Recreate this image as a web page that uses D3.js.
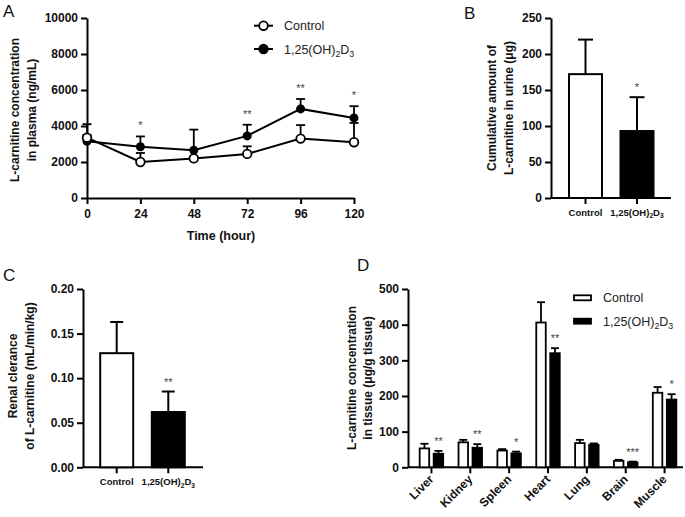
<!DOCTYPE html>
<html><head><meta charset="utf-8">
<script src="https://cdn.jsdelivr.net/npm/d3@7"></script>
<style>body{margin:0;background:#fff}svg{display:block}text{font-family:"Liberation Sans",Arial,sans-serif}</style>
</head><body>
<script>
// Panel A data
const timeTicks = [0, 24, 48, 72, 96, 120];
const plasmaControl = [3350, 2000, 2200, 2450, 3300, 3100];
const plasmaControlErr = [3500, 2500, 2300, 2870, 4050, 4170];
const plasmaVD = [3150, 2850, 2650, 3450, 4950, 4450];
const plasmaVDErr = [4100, 3420, 3800, 4070, 5500, 5100];
const plasmaStars = ["", "*", "", "**", "**", "*"];
const plasmaYTicks = [0, 2000, 4000, 6000, 8000, 10000];
// Panel B
const groups = ["Control", "VD"];
const urineMean = [172, 93];
const urineErr = [220, 140];
const urineYTicks = [0, 50, 100, 150, 200, 250];
// Panel C
const clearMean = [0.128, 0.062];
const clearErr = [0.163, 0.085];
const clearYTicks = [0, 0.05, 0.10, 0.15, 0.20];
// Panel D
const tissues = ["Liver", "Kidney", "Spleen", "Heart", "Lung", "Brain", "Muscle"];
const tissueControl = [53, 70, 47, 406, 68, 18, 209];
const tissueControlErr = [66, 77, 51, 463, 77, 21, 225];
const tissueVD = [38, 55, 39, 320, 63, 14, 190];
const tissueVDErr = [46, 65, 44, 334, 67, 16, 205];
const tissueStars = ["**", "**", "*", "**", "", "***", "*"];
const tissueYTicks = [0, 100, 200, 300, 400, 500];

const W = 685, H = 517;
const svg = d3.select("body").append("svg").attr("width", W).attr("height", H);
const AX = 2;
const STAR = "#444";

function vdLabel(sel, size) {
  sel.append("tspan").text("1,25(OH)");
  sel.append("tspan").text("2").attr("font-size", size * 0.7).attr("dy", size * 0.25);
  sel.append("tspan").text("D").attr("dy", -size * 0.25);
  sel.append("tspan").text("3").attr("font-size", size * 0.7).attr("dy", size * 0.25);
}
function styleAxis(g, fs) {
  g.selectAll("path,line").attr("stroke", "#000").attr("stroke-width", AX);
  g.selectAll("text").attr("font-size", fs).attr("font-weight", "bold").attr("fill", "#111");
}
function yLabel(x1, x2, cy, l1, l2, fs) {
  [[x1, l1], [x2, l2]].forEach(([x, t]) => {
    svg.append("text").attr("transform", `translate(${x},${cy}) rotate(-90)`)
      .attr("text-anchor", "middle").attr("dominant-baseline", "central")
      .attr("font-size", fs).attr("font-weight", "bold").attr("fill", "#111").text(t);
  });
}
function letter(t, x, y) {
  svg.append("text").attr("x", x).attr("y", y).attr("font-size", 17).attr("fill", "#111").text(t);
}

// ---------- Panel A ----------
{
  const x = d3.scaleLinear().domain([0, 120]).range([87, 354]);
  const y = d3.scaleLinear().domain([0, 10000]).range([198, 18]);
  const ga = svg.append("g").attr("transform", "translate(0,198)")
    .call(d3.axisBottom(x).tickValues(timeTicks).tickFormat(d3.format("d")).tickSize(6).tickPadding(5).tickSizeOuter(0));
  styleAxis(ga, 12);
  const gy = svg.append("g").attr("transform", "translate(87,0)")
    .call(d3.axisLeft(y).tickValues(plasmaYTicks).tickFormat(d3.format("d")).tickSize(6).tickPadding(3).tickSizeOuter(0));
  styleAxis(gy, 12);
  svg.append("text").attr("x", 221).attr("y", 240).attr("text-anchor", "middle")
    .attr("font-size", 12.5).attr("font-weight", "bold").attr("fill", "#111").text("Time (hour)");
  yLabel(15, 32, 110, "L-carnitine concentration", "in plasma (ng/mL)", 12);

  const line = d3.line().x((d, i) => x(timeTicks[i])).y(d => y(d));
  [[plasmaVD, plasmaVDErr], [plasmaControl, plasmaControlErr]].forEach(([m, e]) => {
    m.forEach((v, i) => {
      const cx = x(timeTicks[i]);
      svg.append("line").attr("x1", cx).attr("x2", cx).attr("y1", y(v)).attr("y2", y(e[i]))
        .attr("stroke", "#000").attr("stroke-width", 1.8);
      svg.append("line").attr("x1", cx - 4.5).attr("x2", cx + 4.5).attr("y1", y(e[i])).attr("y2", y(e[i]))
        .attr("stroke", "#000").attr("stroke-width", 1.8);
    });
  });
  svg.append("path").datum(plasmaVD).attr("d", line).attr("fill", "none").attr("stroke", "#000").attr("stroke-width", 2);
  svg.append("path").datum(plasmaControl).attr("d", line).attr("fill", "none").attr("stroke", "#000").attr("stroke-width", 2);
  svg.selectAll(".cvd").data(plasmaVD).enter().append("circle")
    .attr("cx", (d, i) => x(timeTicks[i])).attr("cy", d => y(d)).attr("r", 4.5).attr("fill", "#000");
  svg.selectAll(".cctl").data(plasmaControl).enter().append("circle")
    .attr("cx", (d, i) => x(timeTicks[i])).attr("cy", d => y(d)).attr("r", 4.3)
    .attr("fill", "#fff").attr("stroke", "#000").attr("stroke-width", 1.8);
  plasmaStars.forEach((s, i) => {
    if (!s) return;
    svg.append("text").attr("x", x(timeTicks[i])).attr("y", y(plasmaVDErr[i]) - 7)
      .attr("text-anchor", "middle").attr("font-size", 11).attr("fill", STAR).text(s);
  });
  // legend
  [[25.7, false, "Control"], [49, true, null]].forEach(([ly, filled, t]) => {
    svg.append("line").attr("x1", 254).attr("x2", 273).attr("y1", ly).attr("y2", ly).attr("stroke", "#000").attr("stroke-width", 2);
    svg.append("circle").attr("cx", 263.5).attr("cy", ly).attr("r", 4.3)
      .attr("fill", filled ? "#000" : "#fff").attr("stroke", "#000").attr("stroke-width", 1.8);
    const tx = svg.append("text").attr("x", 284).attr("y", ly + 4.5).attr("font-size", 12.5).attr("fill", "#222");
    if (t) tx.text(t); else vdLabel(tx, 12.5);
  });
  letter("A", 3, 17);
}

// ---------- Bar panels B & C ----------
function twoBar(opts) {
  const y = d3.scaleLinear().domain(opts.domain).range([opts.y0, opts.y1]);
  const gy = svg.append("g").attr("transform", `translate(${opts.ax},0)`)
    .call(d3.axisLeft(y).tickValues(opts.ticks).tickSize(6).tickPadding(3).tickSizeOuter(0).tickFormat(opts.fmt));
  styleAxis(gy, 12);
  svg.append("line").attr("x1", opts.ax).attr("x2", opts.axEnd).attr("y1", opts.y0).attr("y2", opts.y0)
    .attr("stroke", "#000").attr("stroke-width", AX);
  const x = d3.scaleOrdinal().domain(groups).range(opts.centers);
  groups.forEach((g, i) => {
    const cx = x(g);
    svg.append("line").attr("x1", cx).attr("x2", cx).attr("y1", opts.y0).attr("y2", opts.y0 + 6)
      .attr("stroke", "#000").attr("stroke-width", AX);
    svg.append("line").attr("x1", cx).attr("x2", cx).attr("y1", y(opts.mean[i])).attr("y2", y(opts.err[i]))
      .attr("stroke", "#000").attr("stroke-width", 2);
    svg.append("line").attr("x1", cx - opts.cap / 2).attr("x2", cx + opts.cap / 2).attr("y1", y(opts.err[i])).attr("y2", y(opts.err[i]))
      .attr("stroke", "#000").attr("stroke-width", 2);
    svg.append("rect").attr("x", cx - opts.bw / 2).attr("width", opts.bw)
      .attr("y", y(opts.mean[i])).attr("height", opts.y0 - y(opts.mean[i]))
      .attr("fill", i === 0 ? "#fff" : "#000").attr("stroke", "#000").attr("stroke-width", 2);
    const tx = svg.append("text").attr("x", cx).attr("y", opts.y0 + 18).attr("text-anchor", "middle")
      .attr("font-size", 9.5).attr("font-weight", "bold").attr("fill", "#111");
    if (i === 0) tx.text("Control"); else vdLabel(tx, 9.5);
  });
  svg.append("text").attr("x", opts.centers[1]).attr("y", y(opts.err[1]) - 6).attr("text-anchor", "middle")
    .attr("font-size", 11).attr("fill", STAR).text(opts.star);
}
twoBar({ domain: [0, 250], y0: 198, y1: 18, ax: 551, axEnd: 671, ticks: urineYTicks, fmt: d3.format("d"),
  centers: [585.5, 637], bw: 33, cap: 15, mean: urineMean, err: urineErr, star: "*" });
yLabel(492, 509, 108, "Cumulative amount of", "L-carnitine in urine (\u03bcg)", 12);
letter("B", 464, 19);

twoBar({ domain: [0, 0.2], y0: 467.3, y1: 289, ax: 83, axEnd: 203, ticks: clearYTicks, fmt: d3.format(".2f"),
  centers: [116.7, 168.3], bw: 33, cap: 13, mean: clearMean, err: clearErr, star: "**" });
yLabel(13, 30, 376, "Renal clerance", "of L-carnitine (mL/min/kg)", 12);
letter("C", 3, 281);

// ---------- Panel D ----------
{
  const y = d3.scaleLinear().domain([0, 500]).range([467.3, 289]);
  const x = d3.scaleBand().domain(tissues).range([412, 684]);
  const gy = svg.append("g").attr("transform", "translate(408,0)")
    .call(d3.axisLeft(y).tickValues(tissueYTicks).tickSize(6).tickPadding(3).tickSizeOuter(0));
  styleAxis(gy, 12);
  svg.append("line").attr("x1", 408).attr("x2", 683).attr("y1", 467.3).attr("y2", 467.3)
    .attr("stroke", "#000").attr("stroke-width", AX);
  const bw = 9.5, off = 7;
  tissues.forEach((t, i) => {
    const cx = x(t) + x.bandwidth() / 2;
    svg.append("line").attr("x1", cx).attr("x2", cx).attr("y1", 467.3).attr("y2", 473.3)
      .attr("stroke", "#000").attr("stroke-width", AX);
    [[tissueControl, tissueControlErr, "#fff", -off], [tissueVD, tissueVDErr, "#000", off]].forEach(([m, e, f, o]) => {
      const bx = cx + o;
      svg.append("line").attr("x1", bx).attr("x2", bx).attr("y1", y(m[i])).attr("y2", y(e[i]))
        .attr("stroke", "#000").attr("stroke-width", 1.8);
      svg.append("line").attr("x1", bx - 4).attr("x2", bx + 4).attr("y1", y(e[i])).attr("y2", y(e[i]))
        .attr("stroke", "#000").attr("stroke-width", 1.8);
      svg.append("rect").attr("x", bx - bw / 2).attr("width", bw).attr("y", y(m[i])).attr("height", 467.3 - y(m[i]))
        .attr("fill", f).attr("stroke", "#000").attr("stroke-width", 1.8);
    });
    if (tissueStars[i]) {
      svg.append("text").attr("x", cx + off).attr("y", y(tissueVDErr[i]) - 6).attr("text-anchor", "middle")
        .attr("font-size", 11).attr("fill", STAR).text(tissueStars[i]);
    }
    svg.append("text").attr("transform", `translate(${cx + 3},${480}) rotate(-45)`)
      .attr("text-anchor", "end").attr("font-size", 12).attr("font-weight", "bold").attr("fill", "#111").text(t);
  });
  yLabel(352, 368, 378, "L-carnitine concentration", "in tissue (\u03bcg/g tissue)", 12);
  [[297.8, "#fff", "Control"], [321.2, "#000", null]].forEach(([ly, f, t]) => {
    svg.append("rect").attr("x", 574).attr("y", ly - 2.5).attr("width", 17).attr("height", 5)
      .attr("fill", f).attr("stroke", "#000").attr("stroke-width", 1.8);
    const tx = svg.append("text").attr("x", 603).attr("y", ly + 4.5).attr("font-size", 12.5).attr("fill", "#222");
    if (t) tx.text(t); else vdLabel(tx, 12.5);
  });
  letter("D", 357, 271);
}
</script>
</body></html>
